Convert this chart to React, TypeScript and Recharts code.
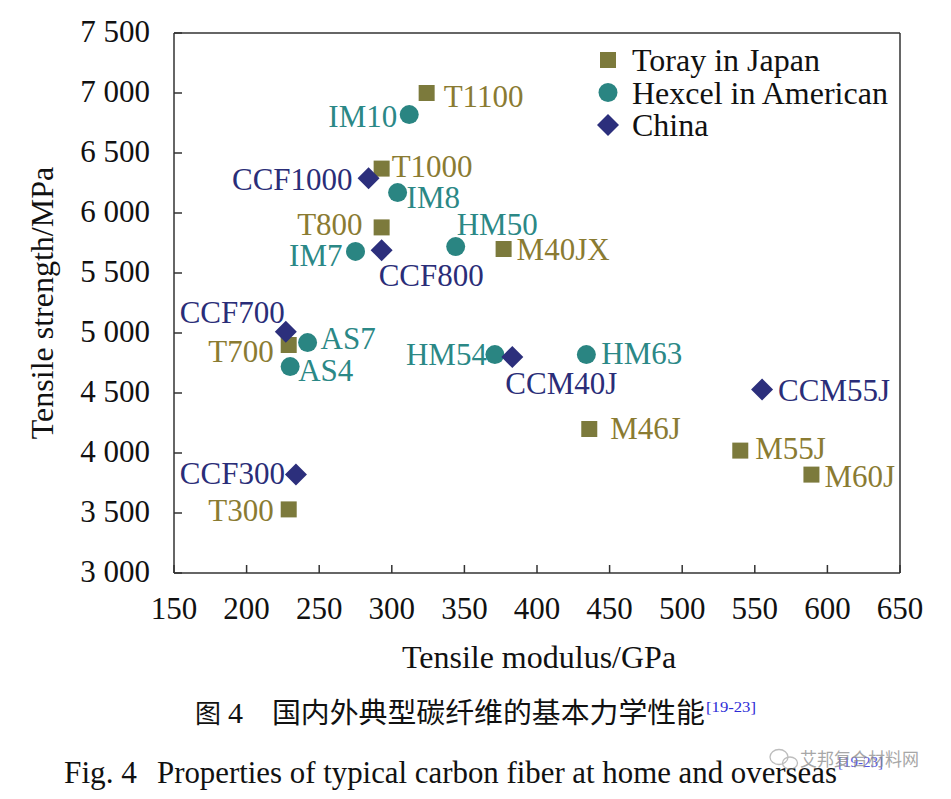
import React from "react";
import { ScatterChart, Scatter, XAxis, YAxis, ReferenceLine } from "recharts";

// Toray (Japan)
const torayNames = ["T300", "T700", "T800", "T1000", "T1100", "M40JX", "M46J", "M55J", "M60J"];
const torayModulus = [229, 229, 293, 293, 324, 377, 436, 540, 589];
const torayStrength = [3530, 4900, 5880, 6370, 7000, 5700, 4200, 4020, 3820];

// Hexcel (America)
const hexcelNames = ["AS4", "AS7", "IM7", "IM8", "IM10", "HM50", "HM54", "HM63"];
const hexcelModulus = [230, 242, 275, 304, 312, 344, 371, 434];
const hexcelStrength = [4720, 4920, 5680, 6170, 6820, 5720, 4820, 4820];

// China
const chinaNames = ["CCF300", "CCF700", "CCF800", "CCF1000", "CCM40J", "CCM55J"];
const chinaModulus = [234, 227, 293, 284, 383, 555];
const chinaStrength = [3820, 5010, 5690, 6290, 4800, 4530];

const seriesNames = ["Toray in Japan", "Hexcel in American", "China"];
const xTicks = [150, 200, 250, 300, 350, 400, 450, 500, 550, 600, 650];
const yTicks = [3000, 3500, 4000, 4500, 5000, 5500, 6000, 6500, 7000, 7500];

// label placement: [anchor, dx, dy] from marker centre
const labelPlace: Record<string, [string, number, number]> = {
  T300: ["end", -15, 1],
  T700: ["end", -15, 6],
  T800: ["end", -19, -3],
  T1000: ["start", 10, -2],
  T1100: ["start", 17, 3],
  M40JX: ["start", 13, 0],
  M46J: ["start", 21, -1],
  M55J: ["start", 15, -2],
  M60J: ["start", 13, 2],
  AS4: ["start", 8, 4],
  AS7: ["start", 13, -4],
  IM7: ["end", -13, 4],
  IM8: ["start", 9, 5],
  IM10: ["end", -12, 2],
  HM50: ["start", 1, -22],
  HM54: ["end", -8, 0],
  HM63: ["start", 15, -1],
  CCF300: ["end", -11, -1],
  CCF700: ["end", -1, -19],
  CCF800: ["start", -3, 25],
  CCF1000: ["end", -16, 1],
  CCM40J: ["start", -7, 26],
  CCM55J: ["start", 16, 1],
};

const SERIF = '"Liberation Serif", "Times New Roman", serif';
const CJK = '"Noto Sans CJK SC", sans-serif';
const AXIS = "#333333";

const TORAY_MARK = "#7c7a3c";
const TORAY_TEXT = "#8a7b32";
const HEXCEL_MARK = "#2a8582";
const HEXCEL_TEXT = "#2b8886";
const CHINA_MARK = "#2c2f7c";
const CHINA_TEXT = "#2a2d78";

const W = 951;
const H = 799;
const PLOT_L = 174;
const PLOT_R = 900;
const PLOT_T = 33;
const PLOT_B = 573;

const toPoints = (names: string[], xs: number[], ys: number[]) =>
  names.map((name, i) => ({ name, x: xs[i], y: ys[i] }));

const toray = toPoints(torayNames, torayModulus, torayStrength);
const hexcel = toPoints(hexcelNames, hexcelModulus, hexcelStrength);
const china = toPoints(chinaNames, chinaModulus, chinaStrength);

const fmtThousands = (v: number) =>
  `${Math.floor(v / 1000)} ${String(v % 1000).padStart(3, "0")}`;

const Marker = ({ kind, cx, cy, fill }: { kind: string; cx: number; cy: number; fill: string }) => {
  if (kind === "square") return <rect x={cx - 8} y={cy - 8} width={16} height={16} fill={fill} />;
  if (kind === "circle") return <circle cx={cx} cy={cy} r={9.5} fill={fill} />;
  return (
    <polygon
      points={`${cx},${cy - 11} ${cx + 11},${cy} ${cx},${cy + 11} ${cx - 11},${cy}`}
      fill={fill}
    />
  );
};

const makeShape = (kind: string, fill: string, textColor: string) => (props: any) => {
  const { cx, cy, payload } = props;
  const [anchor, dx, dy] = labelPlace[payload.name] ?? ["start", 14, 0];
  return (
    <g>
      <Marker kind={kind} cx={cx} cy={cy} fill={fill} />
      <text
        x={cx + dx}
        y={cy + dy}
        textAnchor={anchor as any}
        dominantBaseline="central"
        fontFamily={SERIF}
        fontSize={31}
        fill={textColor}
      >
        {payload.name}
      </text>
    </g>
  );
};

const XTick = (props: any) => {
  const { x, y, payload } = props;
  return (
    <g>
      <line x1={x} y1={y} x2={x} y2={y - 8} stroke={AXIS} strokeWidth={1.5} />
      <text
        x={x}
        y={y + 35.5}
        textAnchor="middle"
        dominantBaseline="central"
        fontFamily={SERIF}
        fontSize={31}
        fill="#111"
      >
        {payload.value}
      </text>
    </g>
  );
};

const YTick = (props: any) => {
  const { x, y, payload } = props;
  return (
    <g>
      <line x1={x} y1={y} x2={x + 8} y2={y} stroke={AXIS} strokeWidth={1.5} />
      <text
        x={x - 24}
        y={y - 1.5}
        textAnchor="end"
        dominantBaseline="central"
        fontFamily={SERIF}
        fontSize={31}
        fill="#111"
      >
        {fmtThousands(payload.value)}
      </text>
    </g>
  );
};

const legendItems = [
  { name: seriesNames[0], kind: "square", fill: TORAY_MARK },
  { name: seriesNames[1], kind: "circle", fill: HEXCEL_MARK },
  { name: seriesNames[2], kind: "diamond", fill: CHINA_MARK },
];

const Overlay = () => {
  const midX = (PLOT_L + PLOT_R) / 2;
  const midY = (PLOT_T + PLOT_B) / 2;
  return (
    <svg
      width={W}
      height={H}
      style={{ position: "absolute", left: 0, top: 0, pointerEvents: "none" }}
    >
      {/* legend */}
      {legendItems.map((it, i) => (
        <g key={it.name}>
          <Marker kind={it.kind} cx={608} cy={60 + i * 32.5} fill={it.fill} />
          <text
            x={632}
            y={60 + i * 32.5}
            dominantBaseline="central"
            fontFamily={SERIF}
            fontSize={32}
            fill="#111"
          >
            {it.name}
          </text>
        </g>
      ))}

      {/* axis titles */}
      <text
        x={midX + 2}
        y={PLOT_B + 95}
        textAnchor="middle"
        fontFamily={SERIF}
        fontSize={32}
        fill="#111"
      >
        Tensile modulus/GPa
      </text>
      <text
        x={53}
        y={midY}
        textAnchor="middle"
        transform={`rotate(-90, 53, ${midY})`}
        fontFamily={SERIF}
        fontSize={32}
        fill="#111"
      >
        Tensile strength/MPa
      </text>

      {/* captions */}
      <text x={195} y={723} fontFamily={CJK} fontSize={26} fill="#111">
        图
      </text>
      <text x={228} y={723} fontFamily={SERIF} fontSize={30} fill="#111">
        4
      </text>
      <text
        x={272}
        y={723}
        fontFamily={CJK}
        fontSize={28}
        fill="#111"
        textLength={433}
        lengthAdjust="spacingAndGlyphs"
      >
        国内外典型碳纤维的基本力学性能
      </text>
      <text
        x={706}
        y={712}
        fontFamily={SERIF}
        fontSize={15}
        fill="#2b2bd6"
        textLength={50}
        lengthAdjust="spacingAndGlyphs"
      >
        [19-23]
      </text>

      <text
        x={64}
        y={783}
        fontFamily={SERIF}
        fontSize={31}
        fill="#111"
        textLength={73}
        lengthAdjust="spacingAndGlyphs"
      >
        Fig. 4
      </text>
      <text
        x={157}
        y={783}
        fontFamily={SERIF}
        fontSize={31}
        fill="#111"
        textLength={680}
        lengthAdjust="spacingAndGlyphs"
      >
        Properties of typical carbon fiber at home and overseas
      </text>

      {/* watermark */}
      <g opacity={0.55} fill="none" stroke="#888" strokeWidth={1.3}>
        <ellipse cx={779} cy={757} rx={9} ry={7.5} />
        <ellipse cx={790} cy={763} rx={7.5} ry={6} />
      </g>
      <text
        x={838}
        y={767}
        fontFamily={SERIF}
        fontSize={15}
        fill="#2b2bd6"
        opacity={0.8}
      >
        [19-23]
      </text>
      <text
        x={800}
        y={766}
        fontFamily={CJK}
        fontSize={18}
        fill="#8a8a8a"
        opacity={0.75}
        textLength={119}
        lengthAdjust="spacingAndGlyphs"
      >
        艾邦复合材料网
      </text>
    </svg>
  );
};

export default function App() {
  return (
    <div
      style={{
        position: "absolute",
        left: 0,
        top: 0,
        width: W,
        height: H,
        background: "#fff",
        overflow: "hidden",
      }}
    >
      <ScatterChart
        width={W}
        height={H}
        margin={{ top: PLOT_T, right: W - PLOT_R, left: PLOT_L - 160, bottom: H - PLOT_B - 60 }}
      >
        <XAxis
          type="number"
          dataKey="x"
          domain={[150, 650]}
          ticks={xTicks}
          allowDataOverflow
          height={60}
          tickSize={0}
          tickMargin={0}
          tickLine={false}
          axisLine={{ stroke: AXIS, strokeWidth: 1.5 }}
          tick={<XTick />}
          interval={0}
        />
        <YAxis
          type="number"
          dataKey="y"
          domain={[3000, 7500]}
          ticks={yTicks}
          allowDataOverflow
          width={160}
          tickSize={0}
          tickMargin={0}
          tickLine={false}
          axisLine={{ stroke: AXIS, strokeWidth: 1.5 }}
          tick={<YTick />}
          interval={0}
        />
        <ReferenceLine y={7500} stroke={AXIS} strokeWidth={1.5} />
        <ReferenceLine x={650} stroke={AXIS} strokeWidth={1.5} />
        <Scatter
          name={seriesNames[0]}
          data={toray}
          isAnimationActive={false}
          shape={makeShape("square", TORAY_MARK, TORAY_TEXT)}
        />
        <Scatter
          name={seriesNames[1]}
          data={hexcel}
          isAnimationActive={false}
          shape={makeShape("circle", HEXCEL_MARK, HEXCEL_TEXT)}
        />
        <Scatter
          name={seriesNames[2]}
          data={china}
          isAnimationActive={false}
          shape={makeShape("diamond", CHINA_MARK, CHINA_TEXT)}
        />
      </ScatterChart>
      <Overlay />
    </div>
  );
}
